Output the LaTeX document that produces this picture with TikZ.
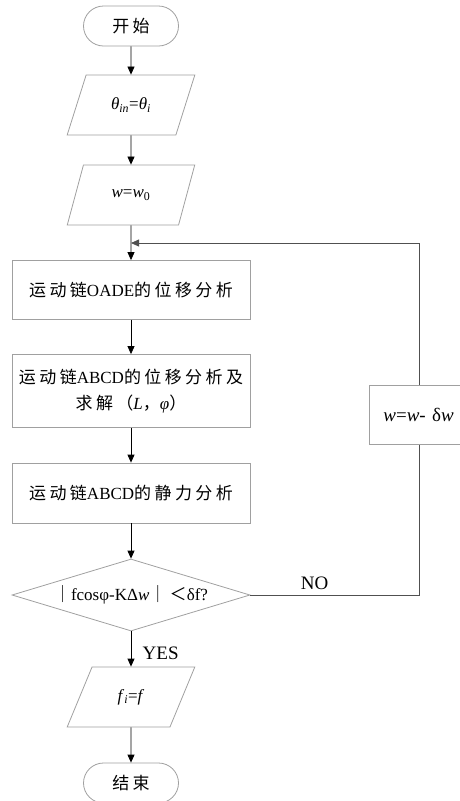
\documentclass[tikz,border=0pt]{standalone}
\usepackage{fontspec}
\setmainfont{Liberation Serif}
\newfontfamily\cjk[LetterSpace=20]{Noto Sans CJK SC}
\usetikzlibrary{arrows.meta, shapes.geometric, shapes.misc, positioning}
\definecolor{boxgray}{HTML}{A0A0A0}
\definecolor{loopgray}{HTML}{505050}

\tikzset{
  base/.style={draw=boxgray, line width=0.8pt, font=\fontsize{17}{26}\selectfont, align=center, inner sep=2pt},
  startstop/.style={base, rounded rectangle, minimum width=99pt, minimum height=40pt},
  iobox/.style={base, trapezium, trapezium left angle=63.4, trapezium right angle=116.6, trapezium stretches=true, minimum width=128pt, minimum height=60pt},
  procbox/.style={base, rectangle, minimum width=238pt},
  decbox/.style={base, diamond, aspect=3.3, minimum width=238pt, minimum height=72pt, inner sep=0pt},
  flow/.style={-{Triangle[length=8pt,width=7pt]}, line width=0.8pt, black},
  loopline/.style={line width=0.8pt, loopgray},
  branchlabel/.style={black, font=\fontsize{19}{22}\selectfont}
}

\begin{document}
\begin{tikzpicture}[x=1pt, y=-1pt]
  \useasboundingbox (0,0) rectangle (460,801);

  % Hauptpfad
  \node[startstop] (start) at (131,26) {{\cjk 开始}};
  \node[iobox] (thetain) at (131,105) {\textit{θ}\textsubscript{\textit{in}}=\textit{θ}\textsubscript{\textit{i}}};
  \node[iobox] (winit) at (131,195) {\textit{w}=\textit{w}\textsubscript{0}};
  \node[procbox, minimum height=59pt] (oade) at (131,290) {{\cjk 运动链}OADE{\cjk 的位移分析}};
  \node[procbox, minimum height=73pt] (abcdpos) at (131,391) {{\cjk 运动链}ABCD{\cjk 的位移分析及}\\{\cjk 求解（}\textit{L}{\cjk ，}\textit{φ}{\cjk ）}};
  \node[procbox, minimum height=60pt] (abcdstat) at (131,493) {{\cjk 运动链}ABCD{\cjk 的静力分析}};
  \node[decbox] (check) at (131,595) {{\cjk ｜}fcosφ-KΔ\textit{w}{\cjk ｜＜}δf?};
  \node[iobox] (fout) at (131,697) {\textit{f}\textsubscript{\textit{i}}=\textit{f}};
  \node[startstop] (stop) at (131,783) {{\cjk 结束}};

  % Rueckfuehrung (Kasten ragt rechts ueber den Rand)
  \node[base, rectangle, anchor=west, minimum height=59pt, text width=136pt, align=left, inner xsep=14pt, font=\fontsize{19}{22}\selectfont] (update) at (369,415) {\textit{w}=\textit{w}- δ\textit{w}};
  \coordinate (loopx) at (419,415);
  \coordinate (merge) at (131,243);

  \draw[flow] (start) -- (thetain);
  \draw[flow] (thetain) -- (winit);
  \draw[flow] (winit) -- (oade);
  \draw[flow] (oade) -- (abcdpos);
  \draw[flow] (abcdpos) -- (abcdstat);
  \draw[flow] (abcdstat) -- (check);
  \draw[flow] (check) -- node[branchlabel, right, xshift=8pt, yshift=-4pt] {YES} (fout);
  \draw[flow] (fout) -- (stop);

  \draw[loopline] (check.east) -- node[branchlabel, above, xshift=-20pt, yshift=2pt] {NO} (check.east -| loopx) -- (update.south -| loopx);
  \draw[loopline, -{Triangle[length=8pt,width=7pt]}] (update.north -| loopx) |- (merge);
\end{tikzpicture}
\end{document}
